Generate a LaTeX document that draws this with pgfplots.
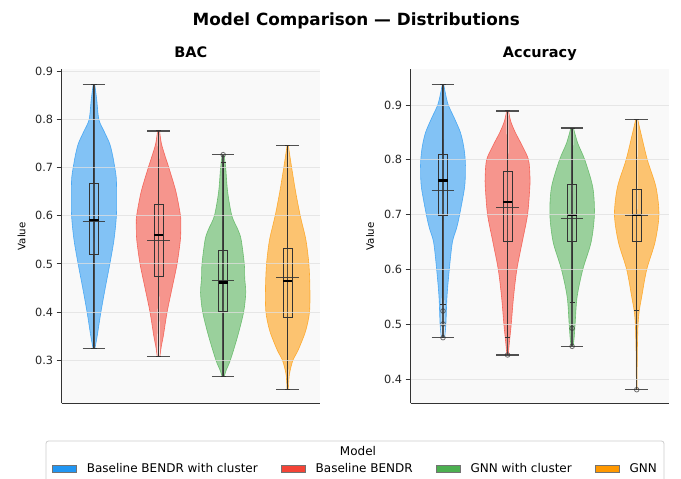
\documentclass[border=0pt]{standalone}
\usepackage{fontspec}
\setmainfont{DejaVu Sans}
\usepackage{pgfplots}
\pgfplotsset{compat=1.18}
\usepackage{pgfplotstable}
\usepgfplotslibrary{fillbetween,statistics}

\definecolor{cBlue}{HTML}{2196F3}
\definecolor{cRed}{HTML}{F44336}
\definecolor{cGreen}{HTML}{4CAF50}
\definecolor{cOrange}{HTML}{FF9800}
\definecolor{ink}{HTML}{333333}
\definecolor{gridc}{HTML}{E0E0E0}
\definecolor{panel}{HTML}{F9F9F9}

% violin outlines: y value and half width (x units)
\pgfplotstableread{
y w
0.3243 0.015
0.35 0.05
0.40 0.108
0.45 0.175
0.50 0.246
0.55 0.31
0.60 0.347
0.65 0.35
0.68 0.345
0.70 0.323
0.725 0.29
0.75 0.244
0.775 0.16
0.80 0.077
0.84 0.044
0.86 0.026
0.873 0.012
}\bacA
\pgfplotstableread{
y w
0.307 0.02
0.33 0.045
0.35 0.074
0.40 0.133
0.45 0.21
0.50 0.287
0.55 0.338
0.58 0.345
0.60 0.34
0.65 0.27
0.70 0.16
0.725 0.1
0.75 0.045
0.777 0.015
}\bacB
\pgfplotstableread{
y w
0.2653 0.015
0.28 0.051
0.30 0.113
0.35 0.226
0.40 0.318
0.44 0.35
0.47 0.335
0.50 0.328
0.55 0.28
0.571 0.23
0.60 0.136
0.65 0.07
0.70 0.04
0.727 0.015
}\bacC
\pgfplotstableread{
y w
0.239 0.01
0.27 0.026
0.30 0.082
0.32 0.16
0.36 0.277
0.40 0.338
0.45 0.344
0.50 0.328
0.55 0.282
0.60 0.195
0.65 0.123
0.70 0.062
0.746 0.01
}\bacD
\pgfplotstableread{
y w
0.4758 0.025
0.50 0.045
0.55 0.062
0.60 0.098
0.65 0.146
0.675 0.21
0.70 0.258
0.75 0.335
0.78 0.347
0.80 0.345
0.825 0.32
0.85 0.27
0.875 0.18
0.90 0.082
0.92 0.04
0.937 0.012
}\accA
\pgfplotstableread{
y w
0.4443 0.01
0.47 0.031
0.50 0.057
0.55 0.093
0.60 0.144
0.65 0.227
0.70 0.31
0.75 0.345
0.77 0.347
0.80 0.325
0.825 0.23
0.85 0.12
0.87 0.05
0.889 0.015
}\accB
\pgfplotstableread{
y w
0.4601 0.015
0.475 0.031
0.50 0.046
0.55 0.077
0.60 0.165
0.65 0.294
0.70 0.345
0.75 0.32
0.80 0.196
0.83 0.088
0.858 0.02
}\accC
\pgfplotstableread{
y w
0.381 0.005
0.45 0.01
0.50 0.021
0.525 0.04
0.55 0.077
0.60 0.155
0.65 0.284
0.70 0.345
0.75 0.299
0.80 0.165
0.85 0.062
0.874 0.015
}\accD

\pgfplotsset{
  panel/.style={
    scale only axis, width=258.3pt, height=334.2pt,
    xmin=-0.5, xmax=3.5, xtick=\empty,
    axis x line*=bottom, axis y line*=left,
    axis line style={ink, line width=1.1pt},
    axis background/.style={fill=panel},
    ymajorgrids, major grid style={gridc, line width=0.9pt, opacity=0.75},
    axis on top,
    tick align=outside, major tick length=5pt,
    tick style={ink, line width=0.9pt},
    /pgf/number format/assume math mode=true,
    /pgf/number format/fixed, /pgf/number format/fixed zerofill,
    /pgf/number format/precision=1,
    yticklabel={\fontsize{11.3}{13}\selectfont\color{black!85}\pgfmathprintnumber{\tick}},
    ylabel={\fontsize{10.2}{12}\selectfont Value},
    title style={font=\bfseries\fontsize{14.5}{17}\selectfont,
      at={(axis description cs:0.5,1)}, anchor=base, yshift=5.3pt},
  },
  statline/.style={forget plot, ink, opacity=0.85, line width=1.4pt},
  boxst/.style={forget plot, ink, line width=1pt, mark=o, mark size=2.3pt,
    mark options={ink, opacity=0.7, line width=0.8pt},
    boxplot/draw direction=y,
    boxplot/box extend=0.14, boxplot/whisker extend=0.08,
    boxplot/every median/.style={black, line width=2.8pt}},
  legendpatch/.style={legend image code/.code={%
    \draw[fill=#1, draw=black!55, line width=0.5pt] (0pt,-3.6pt) rectangle (24pt,3.6pt);}},
}

% pos, table, colour, id
\newcommand{\violin}[4]{%
  \addplot[forget plot, smooth, name path=#4R, draw=#3, draw opacity=0.7, line width=0.6pt]
    table[x expr=#1+\thisrow{w}, y=y] {#2};
  \addplot[forget plot, smooth, name path=#4L, draw=#3, draw opacity=0.7, line width=0.6pt]
    table[x expr=#1-\thisrow{w}, y=y] {#2};
  \addplot[forget plot, fill=#3, fill opacity=0.55, draw=none] fill between[of=#4R and #4L];
}
% pos, min, max, mean
\newcommand{\vstat}[4]{%
  \addplot[statline] coordinates {(#1,#2) (#1,#3)};
  \addplot[statline] coordinates {(\fpeval{#1-0.175},#2) (\fpeval{#1+0.175},#2)};
  \addplot[statline] coordinates {(\fpeval{#1-0.175},#3) (\fpeval{#1+0.175},#3)};
  \addplot[statline] coordinates {(\fpeval{#1-0.175},#4) (\fpeval{#1+0.175},#4)};
}
% pos, low whisker, q1, median, q3, high whisker, outliers
\newcommand{\bxp}[7]{%
  \addplot[boxst, boxplot prepared={draw position=#1, lower whisker=#2,
    lower quartile=#3, median=#4, upper quartile=#5, upper whisker=#6}]
    coordinates {#7};
}

\begin{document}
\begin{tikzpicture}
\node[font=\bfseries\fontsize{16.8}{20}\selectfont, anchor=base] at (356.3pt,453pt)
  {Model Comparison — Distributions};

% legend frame and title
\draw[draw=gray!40, fill=white, rounded corners=2.5pt, line width=0.8pt]
  (46pt,38pt) rectangle (664pt,-20pt);
\node[font=\fontsize{12}{14}\selectfont, anchor=base] at (358pt,23.5pt) {Model};

\begin{axis}[panel, at={(61.7pt,75.5pt)}, anchor=south west,
  ymin=0.2095, ymax=0.905, ytick={0.3,0.4,0.5,0.6,0.7,0.8,0.9},
  title={BAC},
  ylabel style={at={(axis description cs:-0.155,0.5)}, anchor=center},
  legend style={at={(axis description cs:-0.0387,-0.196)}, anchor=west,
    draw=none, fill=none, inner sep=0pt, font=\fontsize{12}{14}\selectfont,
    legend columns=4,
    /tikz/every odd column/.append style={column sep=8.4pt},
    /tikz/every even column/.append style={column sep=21pt}},
  ]
\violin{0}{\bacA}{cBlue}{ba}
\violin{1}{\bacB}{cRed}{bb}
\violin{2}{\bacC}{cGreen}{bc}
\violin{3}{\bacD}{cOrange}{bd}
\vstat{0}{0.3243}{0.873}{0.5886}
\vstat{1}{0.3069}{0.777}{0.549}
\vstat{2}{0.2653}{0.7273}{0.465}
\vstat{3}{0.239}{0.746}{0.4713}
\bxp{0}{0.3243}{0.5206}{0.5914}{0.6663}{0.873}{}
\bxp{1}{0.3069}{0.4734}{0.5601}{0.6226}{0.777}{}
\bxp{2}{0.2653}{0.4006}{0.4609}{0.5289}{0.7106}{(2,0.7273)}
\bxp{3}{0.239}{0.3888}{0.4644}{0.5325}{0.746}{}
\addlegendimage{legendpatch=cBlue}\addlegendentry{Baseline BENDR with cluster}
\addlegendimage{legendpatch=cRed}\addlegendentry{Baseline BENDR}
\addlegendimage{legendpatch=cGreen}\addlegendentry{GNN with cluster}
\addlegendimage{legendpatch=cOrange}\addlegendentry{GNN}
\end{axis}

\begin{axis}[panel, at={(410.7pt,75.5pt)}, anchor=south west,
  ymin=0.3559, ymax=0.965, ytick={0.4,0.5,0.6,0.7,0.8,0.9},
  title={Accuracy},
  ylabel style={at={(axis description cs:-0.1576,0.5)}, anchor=center},
  ]
\violin{0}{\accA}{cBlue}{aa}
\violin{1}{\accB}{cRed}{ab}
\violin{2}{\accC}{cGreen}{ac}
\violin{3}{\accD}{cOrange}{ad}
\vstat{0}{0.4758}{0.937}{0.7444}
\vstat{1}{0.4443}{0.889}{0.7134}
\vstat{2}{0.4601}{0.858}{0.6927}
\vstat{3}{0.381}{0.874}{0.6982}
\bxp{0}{0.5372}{0.698}{0.7627}{0.810}{0.937}{(0,0.5245) (0,0.5008) (0,0.4758)}
\bxp{1}{0.4766}{0.6508}{0.7231}{0.7784}{0.889}{(1,0.4443)}
\bxp{2}{0.5403}{0.6508}{0.6994}{0.7547}{0.858}{(2,0.493) (2,0.4601)}
\bxp{3}{0.5245}{0.6508}{0.6994}{0.7463}{0.874}{(3,0.381)}
\end{axis}

\pgfresetboundingbox
\path (0pt,0pt) rectangle (681pt,479pt);
\end{tikzpicture}
\end{document}
